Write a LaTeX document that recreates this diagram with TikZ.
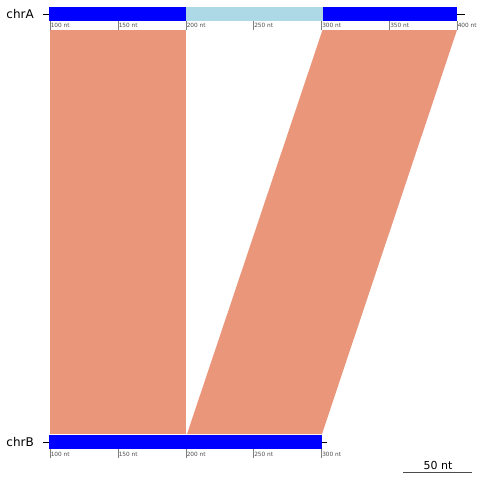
\documentclass[tikz,border=0pt]{standalone}
\usepackage{fontspec}
\setmainfont{DejaVu Sans}
\definecolor{segblue}{HTML}{0000FF}
\definecolor{seglight}{HTML}{ADD8E6}
\definecolor{ribbon}{HTML}{E9967A}
\definecolor{tickgray}{HTML}{7F7F7F}
\begin{document}
\begin{tikzpicture}[x=1pt,y=-1pt,
  seg/.style={fill=#1,draw=none},
  rib/.style={fill=ribbon,draw=none},
  tk/.style={draw=tickgray,line width=0.6pt},
  tklab/.style={font=\fontsize{5.8}{6}\selectfont,text=black!70,anchor=west,inner sep=0.6pt},
  chrlab/.style={font=\fontsize{12}{12}\selectfont,anchor=east,inner sep=1pt},
  axl/.style={draw=black,line width=0.6pt}]
\useasboundingbox (0,0) rectangle (480,480);
% ribbons
\fill[rib] (49.5,30) -- (185.5,30) -- (185.5,434) -- (49.5,434) -- cycle;
\fill[rib] (322.5,30) -- (457,30) -- (322,434) -- (187,434) -- cycle;
% chrA
\draw[axl] (43,14) -- (49,14);
\draw[axl] (457,14) -- (465,14);
\fill[seg=segblue] (49,6.5) rectangle (185.5,21);
\fill[seg=seglight] (185.5,6.5) rectangle (322.5,21);
\fill[seg=segblue] (322.5,6.5) rectangle (457,21);
\node[chrlab] (labA) at (35,14.5) {chrA};
\foreach \v/\x in {100/50,150/118,200/186,250/253.5,300/321.5,350/389.5,400/457}{
  \draw[tk] (\x,21) -- (\x,30);
  \node[tklab] (tA\v) at (\x,25.5) {\v{} nt};
}
% chrB
\draw[axl] (43,442) -- (49,442);
\draw[axl] (322,442) -- (327,442);
\fill[seg=segblue] (49,435) rectangle (185.7,449);
\fill[seg=segblue] (186.3,435) rectangle (322,449);
\node[chrlab] (labB) at (35,442.5) {chrB};
\foreach \v/\x in {100/50,150/118,200/186,250/253.5,300/321.5}{
  \draw[tk] (\x,449) -- (\x,458);
  \node[tklab] (tB\v) at (\x,454) {\v{} nt};
}
% scale bar
\draw[draw=black!70,line width=0.8pt] (403,472.5) -- (472,472.5);
\node[font=\fontsize{11}{11}\selectfont,inner sep=0pt] (scl) at (438,465) {50 nt};
\end{tikzpicture}
\end{document}
